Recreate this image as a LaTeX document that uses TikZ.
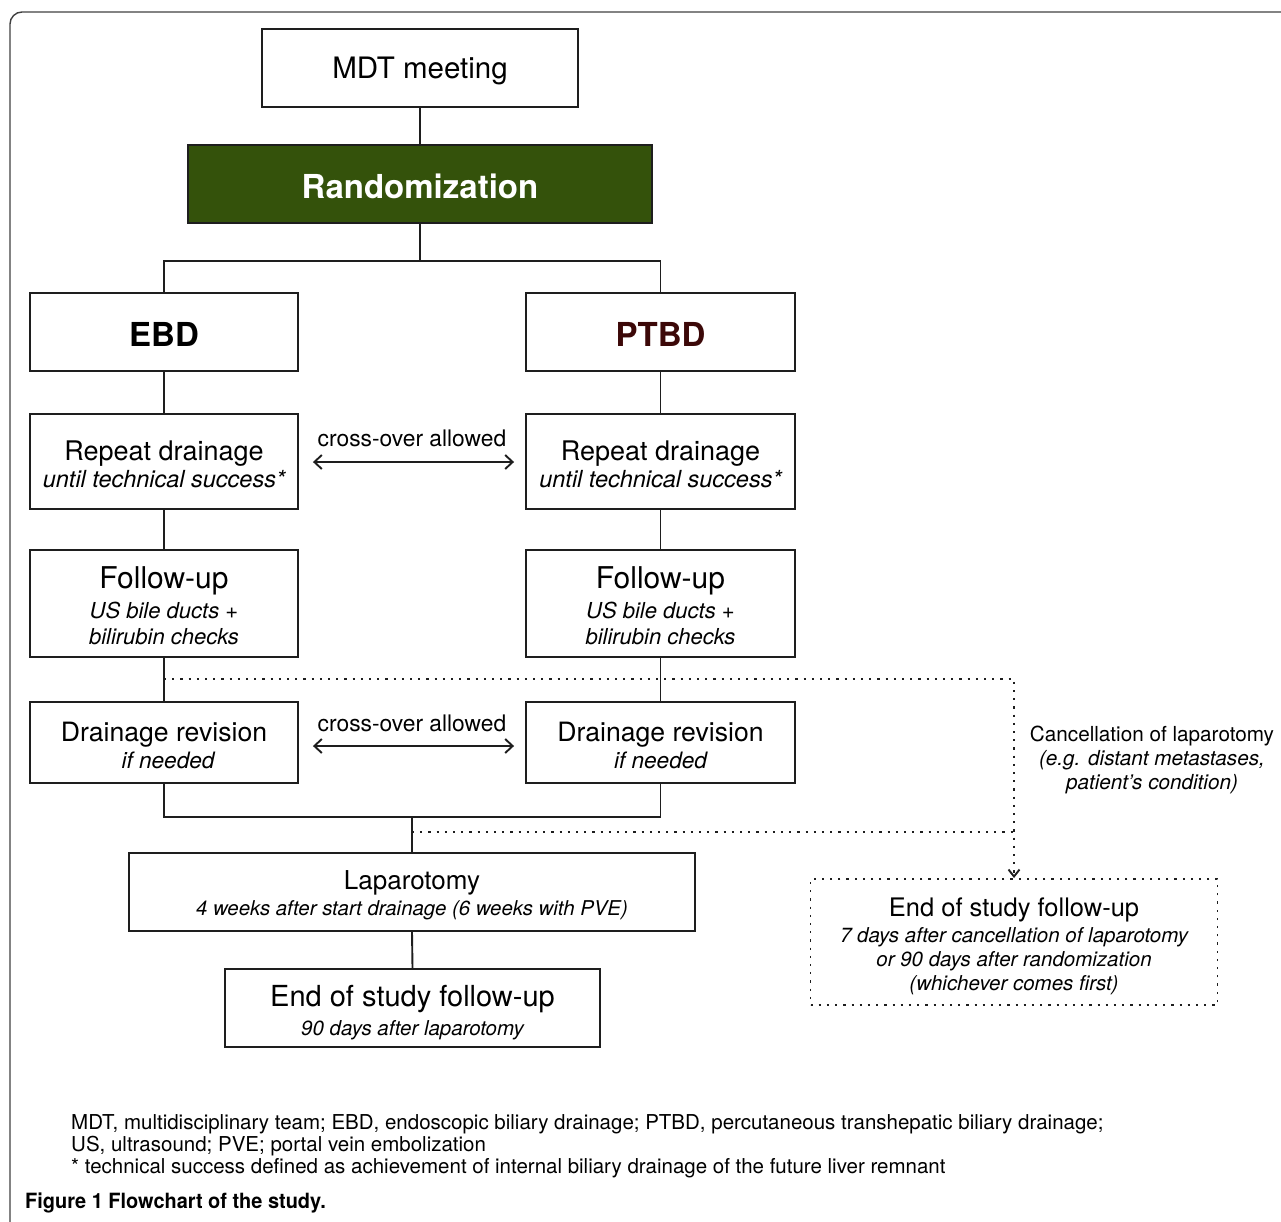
\documentclass[tikz,border=0pt]{standalone}
\usepackage{fontspec}
\setmainfont{TeX Gyre Heros}
\newfontfamily\capfont[FakeStretch=0.95]{TeX Gyre Heros}
\usetikzlibrary{arrows.meta}
\definecolor{randgreen}{RGB}{52,82,11}
\definecolor{ptbdred}{RGB}{60,8,8}
\definecolor{linegray}{RGB}{30,30,30}
\newcommand\fsz[2]{\fontsize{#1}{#2}\selectfont}
\newcommand\itsz[2]{\fontsize{#1}{#2}\selectfont\itshape}
\newcommand\lowr[2]{\raisebox{-#1}[\height][\depth]{#2}}
\newcommand\topstrut[1]{\rule{0pt}{#1}}
\begin{document}
\begin{tikzpicture}[x=1pt,y=-1pt,
  box/.style={draw=linegray, line width=1.9pt, inner sep=0pt, align=center},
  dotbox/.style={box, dash pattern=on 2.2pt off 6pt},
  conn/.style={draw=linegray, line width=1.9pt},
  dotl/.style={draw=linegray, line width=1.9pt, dash pattern=on 2.2pt off 6pt},
  xarrow/.style={conn, {Straight Barb[length=7.5pt,width=14pt]}-{Straight Barb[length=7.5pt,width=14pt]}},
]
\useasboundingbox (0,0) rectangle (1281,1221);
\begin{scope}
  \clip (0,0) rectangle (1281,1221);
  \draw[line width=1.4pt, draw=black!75, rounded corners=12pt] (10,12) rectangle (1320,1260);
\end{scope}

% boxes
\node[box, minimum width=316pt, minimum height=78pt, font=\fsz{29.5}{32}] (mdt) at (420,68) {\lowr{3pt}{MDT meeting}};
\node[box, fill=randgreen, text=white, minimum width=464pt, minimum height=78pt, font=\fsz{33}{36}\bfseries] (rand) at (420,184) {\lowr{2pt}{Randomization}};
\node[box, minimum width=268pt, minimum height=78pt, font=\fsz{33}{36}\bfseries] (ebd) at (164,332) {\lowr{2pt}{EBD}};
\node[box, minimum width=269pt, minimum height=78pt, font=\fsz{33}{36}\bfseries, text=ptbdred] (ptbd) at (660.5,332) {\lowr{2pt}{PTBD}};
\node[box, minimum width=268pt, minimum height=95pt, font=\fsz{27}{27}] (rep1) at (164,461.5) {\topstrut{26pt}Repeat drainage\\\itsz{23.5}{27}until technical success*};
\node[box, minimum width=269pt, minimum height=95pt, font=\fsz{27}{27}] (rep2) at (660.5,461.5) {\topstrut{26pt}Repeat drainage\\\itsz{23.5}{27}until technical success*};
\node[box, minimum width=268pt, minimum height=107pt, font=\fsz{30}{26}] (fu1) at (164,603.5) {\topstrut{26pt}Follow-up\\[4pt]\itsz{22}{26}US bile ducts +\\\itsz{22}{26}bilirubin checks};
\node[box, minimum width=269pt, minimum height=107pt, font=\fsz{30}{26}] (fu2) at (660.5,603.5) {\topstrut{26pt}Follow-up\\[4pt]\itsz{22}{26}US bile ducts +\\\itsz{22}{26}bilirubin checks};
\node[box, minimum width=268pt, minimum height=81pt, font=\fsz{26.6}{27}] (rev1) at (164,742.5) {\topstrut{26pt}Drainage revision\\\itsz{22.6}{27}\hspace*{8pt}if needed};
\node[box, minimum width=269pt, minimum height=81pt, font=\fsz{26.6}{27}] (rev2) at (660.5,742.5) {\topstrut{26pt}Drainage revision\\\itsz{22.6}{27}if needed};
\node[box, minimum width=566pt, minimum height=78pt, font=\fsz{26}{26}] (lap) at (412,892) {\topstrut{26pt}Laparotomy\\\itsz{20.4}{26}4 weeks after start drainage (6 weeks with PVE)};
\node[box, minimum width=375pt, minimum height=78pt, font=\fsz{29}{29}] (end) at (412.5,1008) {\topstrut{31pt}End of study follow-up\\\itsz{20.5}{29}90 days after laparotomy};
\node[dotbox, minimum width=407pt, minimum height=126pt, font=\fsz{25.5}{24}] (endx) at (1014,942) {\topstrut{28pt}End of study follow-up\\[2pt]\itsz{20.5}{24}7 days after cancellation of laparotomy\\\itsz{20.5}{24}or 90 days after randomization\\\itsz{20.5}{24}(whichever comes first)};

% connectors
\coordinate (split) at (420,261);
\coordinate (join) at (412,817);
\draw[conn] (mdt.south) -- (rand.north);
\draw[conn] (rand.south) -- (split);
\draw[conn] (ebd.north) |- (split) -| (ptbd.north);
\draw[conn] (ebd.south) -- (rep1.north);
\draw[conn] (rep1.south) -- (fu1.north);
\draw[conn] (fu1.south) -- (rev1.north);
\draw[conn] (ptbd.south) -- (rep2.north);
\draw[conn] (rep2.south) -- (fu2.north);
\draw[conn] (fu2.south) -- (rev2.north);
\draw[conn] (rev1.south) |- (join) -| (rev2.south);
\draw[conn] (join) -- (lap.north);
\draw[conn] (lap.south) -- (end.north);

% cross-over arrows
\draw[xarrow, shorten <=14pt, shorten >=11pt] ([yshift=-0.5pt]rep1.east) -- ([yshift=-0.5pt]rep2.west)
  node[midway, yshift=24pt, font=\fsz{22.8}{24}] (x1) {cross-over allowed};
\draw[xarrow, shorten <=14pt, shorten >=11pt] ([yshift=-3.5pt]rev1.east) -- ([yshift=-3.5pt]rev2.west)
  node[midway, yshift=23pt, font=\fsz{22.8}{24}] (x2) {cross-over allowed};

% dotted path
\coordinate (dA) at (164,679);
\coordinate (dB) at (412,832);
\draw[dotl, -{Straight Barb[length=7pt,width=11pt]}] (dA) -| (endx.north);
\draw[dotl] (dB) -- (dB -| endx.north);
\node[align=center, font=\fsz{20.7}{24}] (cancel) at (1152,759.5) {Cancellation of laparotomy\\\itsz{20.7}{24}(e.g. distant metastases,\\\itsz{20.7}{24}patient’s condition)};

% notes and caption
\node[anchor=north west, align=left, inner sep=0pt, font=\fsz{20.5}{22}] (notes) at (71,1114) {MDT, multidisciplinary team; EBD, endoscopic biliary drainage; PTBD, percutaneous transhepatic biliary drainage;\\US, ultrasound; PVE; portal vein embolization\\* technical success defined as achievement of internal biliary drainage of the future liver remnant};
\node[anchor=west, inner sep=0pt, font=\capfont\fsz{21}{24}\bfseries] (cap) at (25,1203) {Figure 1 Flowchart of the study.};
\end{tikzpicture}
\end{document}
